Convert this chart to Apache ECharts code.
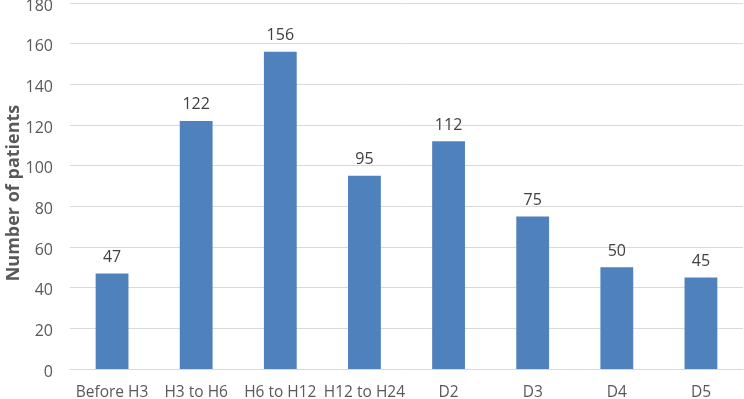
<!DOCTYPE html>
<html><head><meta charset="utf-8">
<script src="https://cdn.jsdelivr.net/npm/echarts@6/dist/echarts.min.js"></script>
<style>html,body{margin:0;padding:0;background:#fff}#c{width:744px;height:399px}</style>
</head><body><div id="c"></div>
<script>
const categories = ['Before H3','H3 to H6','H6 to H12','H12 to H24','D2','D3','D4','D5'];
const patients = [47,122,156,95,112,75,50,45];
const yTicks = {min:0,max:180,interval:20};
const FONT = '"Open Sans", sans-serif';
const chart = echarts.init(document.getElementById('c'));
chart.setOption({
  animation:false,
  grid:{left:70,right:1,top:3,bottom:30,containLabel:false,outerBoundsMode:'none'},
  xAxis:{type:'category',data:categories,
    axisLine:{lineStyle:{color:'#d9d9d9',width:1}},axisTick:{show:false},
    axisLabel:{interval:0,color:'#595959',fontSize:15.5,fontFamily:FONT,margin:16}},
  yAxis:{type:'value',min:yTicks.min,max:yTicks.max,interval:yTicks.interval,
    name:'Number of patients',nameLocation:'middle',nameGap:47,nameMoveOverlap:false,
    nameTextStyle:{color:'#595959',fontSize:18,fontWeight:'bold',fontFamily:FONT,padding:[0,14,0,0]},
    axisLine:{show:false},axisTick:{show:false},
    splitLine:{lineStyle:{color:'#d9d9d9',width:1}},
    axisLabel:{color:'#595959',fontSize:16,fontFamily:FONT,margin:17,
      verticalAlign:'top',lineHeight:16,padding:[-5,0,0,0]}},
  series:[{type:'bar',data:patients,barWidth:'39%',
    itemStyle:{color:'#4f81bd'},
    label:{show:true,position:'top',distance:8,color:'#404040',fontSize:16,fontFamily:FONT}}]
});
</script></body></html>
